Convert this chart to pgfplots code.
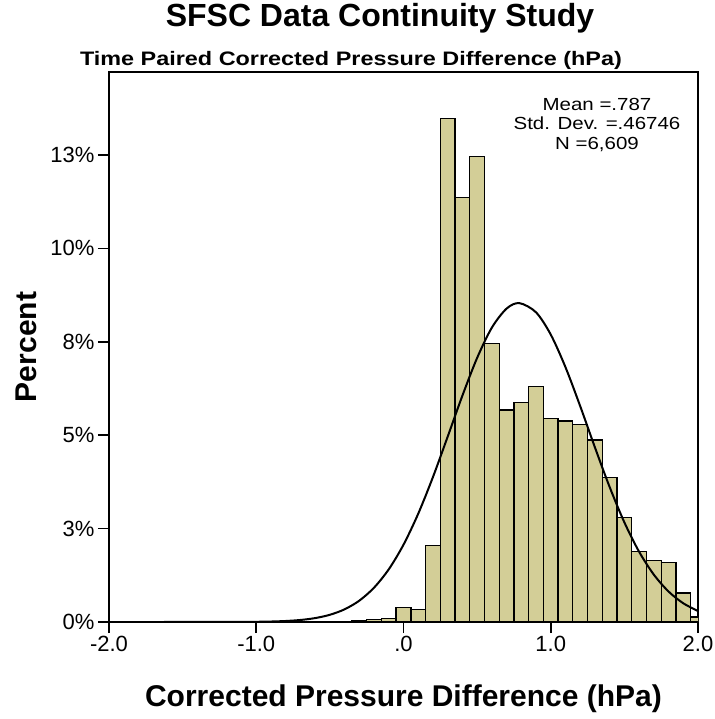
\documentclass[border=0pt]{standalone}
\usepackage{fontspec}
\setmainfont{Liberation Sans}
\usepackage{pgfplots}
\pgfplotsset{compat=1.18}
\definecolor{barfill}{RGB}{211,206,151}

\begin{document}
\begin{tikzpicture}
\useasboundingbox (-109bp,-97bp) rectangle (606bp,622bp);
\begin{axis}[
    scale only axis,
    width=589bp, height=550bp,
    xmin=-2, xmax=2, ymin=0, ymax=14.72,
    axis line style={line width=1.5bp},
    xtick={-2,-1,0,1,2},
    xticklabels={-2.0,-1.0,.0,1.0,2.0},
    ytick={0,2.5,5,7.5,10,12.5},
    yticklabels={0\%,3\%,5\%,8\%,10\%,13\%},
    xtick pos=bottom, ytick pos=left,
    tick align=outside,
    major tick length=11bp,
    tick style={line width=1.5bp, black},
    ticklabel style={font=\fontsize{22bp}{26bp}\selectfont},
    xlabel={Corrected Pressure Difference (hPa)},
    ylabel={Percent},
    xlabel style={font=\fontsize{30bp}{36bp}\selectfont\bfseries,
        at={(axis description cs:0.5,-0.14)}, anchor=center},
    ylabel style={font=\fontsize{30bp}{36bp}\selectfont\bfseries,
        at={(axis description cs:-0.141,0.5)}, anchor=center},
    clip=true,
]
% histogram, bins of 0.1 hPa, percent of N = 6609
\addplot[ybar, bar width=0.1, bar shift=0pt, fill=barfill, draw=black, line width=1.3bp]
coordinates {
    (-1.6, 0.015)
    (-1.2, 0.015)
    (-0.3, 0.03)
    (-0.2, 0.06)
    (-0.1, 0.09)
    (0.0, 0.38)
    (0.1, 0.33)
    (0.2, 2.04)
    (0.3, 13.47)
    (0.4, 11.37)
    (0.5, 12.46)
    (0.6, 7.46)
    (0.7, 5.67)
    (0.8, 5.88)
    (0.9, 6.30)
    (1.0, 5.45)
    (1.1, 5.38)
    (1.2, 5.29)
    (1.3, 4.87)
    (1.4, 3.87)
    (1.5, 2.79)
    (1.6, 1.88)
    (1.7, 1.64)
    (1.8, 1.60)
    (1.9, 0.78)
    (2.0, 0.13)
};
% normal curve, mean .787, sd .46746
\addplot[black, line width=2bp, smooth, no markers]
coordinates {
    (-2.0, 0.0000)
    (-1.5, 0.0001)
    (-1.2, 0.0010)
    (-1.0, 0.0057)
    (-0.9, 0.0127)
    (-0.8, 0.0268)
    (-0.7, 0.0542)
    (-0.6, 0.1046)
    (-0.5, 0.1929)
    (-0.4, 0.3396)
    (-0.3, 0.5714)
    (-0.2, 0.9188)
    (-0.1, 1.4103)
    (0.0, 2.0683)
    (0.1, 2.8983)
    (0.2, 3.8794)
    (0.3, 4.9600)
    (0.4, 6.0582)
    (0.5, 7.0681)
    (0.6, 7.8781)
    (0.7, 8.3877)
    (0.787, 8.5342)
    (0.9, 8.2884)
    (1.0, 7.6927)
    (1.1, 6.8204)
    (1.2, 5.7766)
    (1.3, 4.6736)
    (1.4, 3.6121)
    (1.5, 2.6664)
    (1.6, 1.8808)
    (1.7, 1.2674)
    (1.8, 0.8155)
    (1.9, 0.5013)
    (2.0, 0.2944)
};
\node[anchor=base, inner sep=0pt, font=\fontsize{17.5bp}{20bp}\selectfont]
    at (axis cs:1.314,13.69) {\scalebox{1.17}[1]{Mean =.787}};
\node[anchor=base, inner sep=0pt, font=\fontsize{17.5bp}{20bp}\selectfont]
    at (axis cs:1.314,13.17) {\scalebox{1.17}[1]{Std. Dev. =.46746}};
\node[anchor=base, inner sep=0pt, font=\fontsize{17.5bp}{20bp}\selectfont]
    at (axis cs:1.314,12.65) {\scalebox{1.17}[1]{N =6,609}};
\end{axis}
\node[anchor=base, font=\fontsize{32bp}{36bp}\selectfont\bfseries] at (271bp,595bp) {SFSC Data Continuity Study};
\node[anchor=base, font=\fontsize{19.5bp}{22bp}\selectfont\bfseries] at (242bp,556bp) {\scalebox{1.2}[1]{Time Paired Corrected Pressure Difference (hPa)}};
\end{tikzpicture}
\end{document}
